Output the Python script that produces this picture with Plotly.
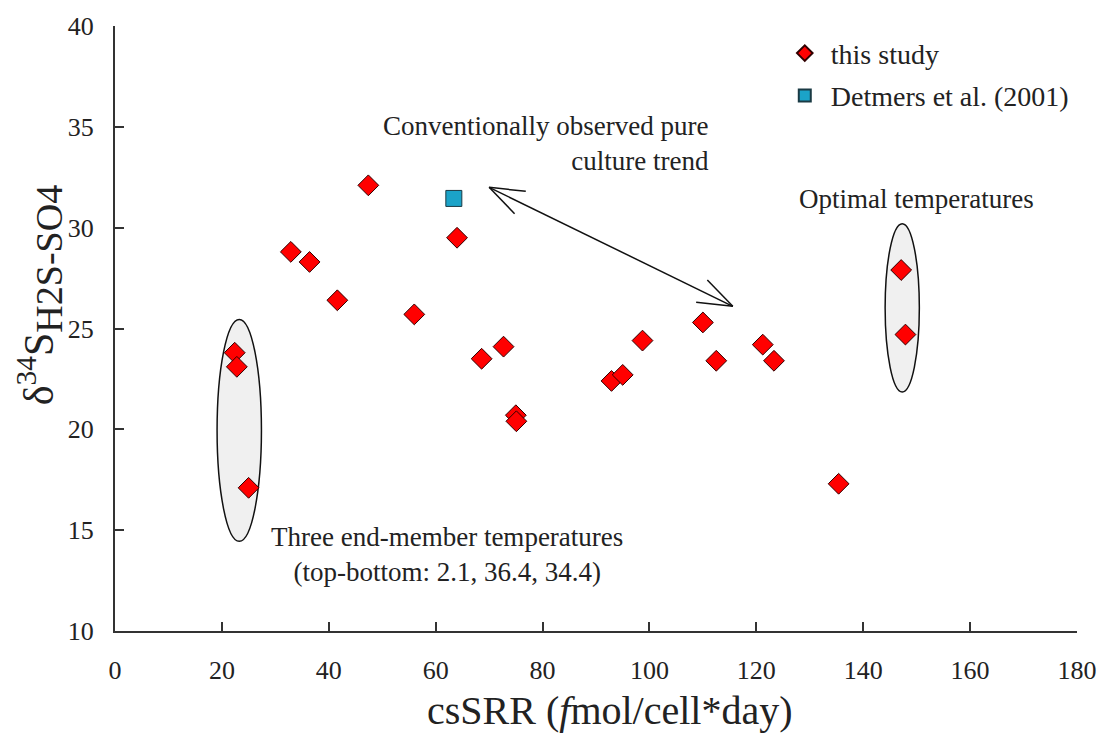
import math
import plotly.graph_objects as go

# ---- data ----
study_x = [22.4, 22.8, 25.0, 32.9, 36.4, 41.6, 47.4, 56.0, 64.0, 68.6, 72.7, 75.0, 75.1,
           92.9, 95.0, 98.7, 110.0, 112.5, 121.2, 123.3, 135.4, 147.1, 147.9]
study_y = [23.8, 23.1, 17.1, 28.8, 28.3, 26.4, 32.1, 25.7, 29.5, 23.5, 24.1, 20.7, 20.4,
           22.4, 22.7, 24.4, 25.3, 23.4, 24.2, 23.4, 17.3, 27.9, 24.7]
detmers_x = [63.4]
detmers_y = [31.45]

x_ticks = [0, 20, 40, 60, 80, 100, 120, 140, 160, 180]
y_ticks = [10, 15, 20, 25, 30, 35, 40]

# annotation geometry (data coords)
ell_left = dict(x0=19.1, x1=27.4, y0=14.45, y1=25.45)
ell_right = dict(x0=144.1, x1=150.5, y0=21.85, y1=30.2)
arrow_a = (70.0, 32.0)
arrow_b = (115.6, 26.1)

W, H = 1109, 733
ML, MR, MT, MB = 115, 29, 17, 102
XR = [0, 180]
YR = [10, 40]
FONT = "Liberation Serif"
TXT = "#222222"

px_x = (W - ML - MR) / (XR[1] - XR[0])
px_y = (H - MT - MB) / (YR[1] - YR[0])

fig = go.Figure()

fig.add_trace(go.Scatter(
    x=study_x, y=study_y, mode="markers", name="this study",
    legendgroup="a",
    marker=dict(symbol="diamond", size=16, color="#ff0000",
                line=dict(color="#300000", width=1)),
))
fig.add_trace(go.Scatter(
    x=detmers_x, y=detmers_y, mode="markers", name="Detmers et al. (2001)",
    legendgroup="b",
    marker=dict(symbol="square", size=16, color="#1ba3c8",
                line=dict(color="#1a3a44", width=1)),
))

shapes = []
for e in (ell_left, ell_right):
    shapes.append(dict(type="circle", xref="x", yref="y", layer="below",
                       fillcolor="#f0f0f0", line=dict(color="#111111", width=1.5), **e))

# double-headed arrow with open V heads
shapes.append(dict(type="line", xref="x", yref="y",
                   x0=arrow_a[0], y0=arrow_a[1], x1=arrow_b[0], y1=arrow_b[1],
                   line=dict(color="#111111", width=1.5)))

def head(tip, other, length=37, spread=20):
    dx = (other[0] - tip[0]) * px_x
    dy = -(other[1] - tip[1]) * px_y
    ang = math.atan2(dy, dx)
    pts = []
    for s in (-spread, spread):
        a = ang + math.radians(s)
        ex = tip[0] + length * math.cos(a) / px_x
        ey = tip[1] - length * math.sin(a) / px_y
        pts.append((ex, ey))
    return pts

for tip, other in ((arrow_a, arrow_b), (arrow_b, arrow_a)):
    for ex, ey in head(tip, other):
        shapes.append(dict(type="line", xref="x", yref="y",
                           x0=tip[0], y0=tip[1], x1=ex, y1=ey,
                           line=dict(color="#111111", width=1.5)))

annotations = [
    dict(text="Conventionally observed pure<br>culture trend", x=111.5, y=34.15,
         xref="x", yref="y", xanchor="right", yanchor="middle", align="right",
         showarrow=False, font=dict(family=FONT, size=27, color=TXT)),
    dict(text="Optimal temperatures", x=150.0, y=31.4, xref="x", yref="y",
         xanchor="center", yanchor="middle", showarrow=False,
         font=dict(family=FONT, size=27, color=TXT)),
    dict(text="Three end-member temperatures<br>(top-bottom: 2.1, 36.4, 34.4)",
         x=62.1, y=13.79, xref="x", yref="y", xanchor="center", yanchor="middle",
         align="center", showarrow=False, font=dict(family=FONT, size=27, color=TXT)),
    # y-axis title
    dict(text="δ<sup>34</sup>S<sub><span style='font-size:38px'>H2S-SO4</span></sub>",
         x=-0.078, y=0.555, xref="paper", yref="paper", xanchor="center",
         yanchor="middle", textangle=-90, showarrow=False,
         font=dict(family=FONT, size=42, color=TXT)),
    # x-axis title
    dict(text="csSRR (<i>f</i>mol/cell*day)", x=0.515, y=-0.132,
         xref="paper", yref="paper", xanchor="center", yanchor="middle",
         showarrow=False, font=dict(family=FONT, size=40, color=TXT)),
]

fig.update_layout(
    width=W, height=H,
    margin=dict(l=ML, r=MR, t=MT, b=MB),
    paper_bgcolor="white", plot_bgcolor="white",
    font=dict(family=FONT, color=TXT),
    shapes=shapes, annotations=annotations,
    showlegend=True,
    legend=dict(x=0.69, y=0.996, xanchor="left", yanchor="top",
                font=dict(family=FONT, size=28, color=TXT),
                bgcolor="rgba(0,0,0,0)", itemsizing="constant", itemwidth=42,
                traceorder="grouped", tracegroupgap=3),
    xaxis=dict(range=XR, tickvals=x_ticks, ticks="inside", ticklen=9, tickwidth=2,
               tickcolor="#333333", showline=True, linecolor="#333333", linewidth=2,
               showgrid=False, zeroline=False, ticklabelstandoff=15,
               tickfont=dict(family=FONT, size=26, color=TXT)),
    yaxis=dict(range=YR, tickvals=y_ticks, ticks="inside", ticklen=9, tickwidth=2,
               tickcolor="#333333", showline=True, linecolor="#333333", linewidth=2,
               showgrid=False, zeroline=False, ticklabelstandoff=14,
               tickfont=dict(family=FONT, size=26, color=TXT)),
)

fig.write_html("out.html")
